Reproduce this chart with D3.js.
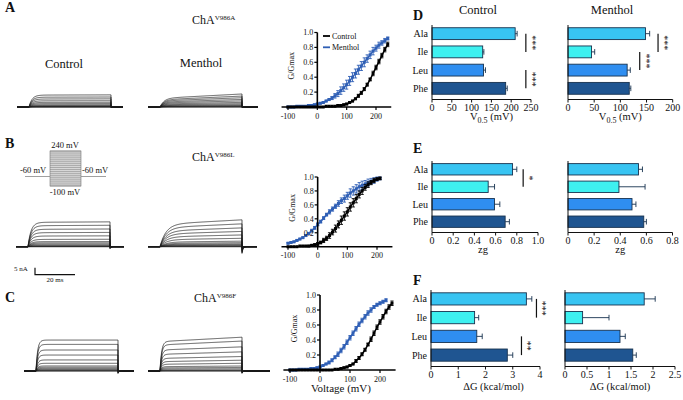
<!DOCTYPE html>
<html><head><meta charset="utf-8">
<script src="https://cdn.jsdelivr.net/npm/d3@7"></script>
<style>body{margin:0;background:#fff}svg{display:block}text{font-family:"Liberation Serif","Times New Roman",serif;fill:#111}</style>
</head><body>
<script>
// ---------------- DATA ----------------
const residues = ["Ala","Ile","Leu","Phe"];
const barColors = ["#38c4f2","#3ef0f0","#2f8ef0","#1f5591"];

const v05Control = [210,128,130,186];
const v05ControlErr = [5,3,5,4];
const v05Menthol = [148,45,113,117];
const v05MentholErr = [8,6,6,3];
const zgControl = [0.76,0.53,0.59,0.69];
const zgControlErr = [0.04,0.06,0.05,0.04];
const zgMenthol = [0.54,0.39,0.49,0.58];
const zgMentholErr = [0.03,0.20,0.03,0.02];
const dGControl = [3.5,1.6,1.68,2.8];
const dGControlErr = [0.2,0.15,0.2,0.2];
const dGMenthol = [1.8,0.4,1.25,1.54];
const dGMentholErr = [0.25,0.6,0.12,0.08];

const v05ControlTicks = [0,50,100,150,200,250];
const v05MentholTicks = [0,50,100,150,200];
const zgControlTicks = [0,0.2,0.4,0.6,0.8,1.0];
const zgMentholTicks = [0,0.2,0.4,0.6,0.8];
const dGControlTicks = [0,1,2,3,4];
const dGMentholTicks = [0,0.5,1,1.5,2,2.5];

const sigV05Control = [{from:"Ala",to:"Ile",label:"***"},{from:"Leu",to:"Phe",label:"***"}];
const sigV05Menthol = [{from:"Ala",to:"Ile",label:"***"},{from:"Ile",to:"Leu",label:"***"}];
const sigZgControl = [{from:"Ala",to:"Ile",label:"*"}];
const sigDGControl = [{from:"Ala",to:"Ile",label:"***"},{from:"Leu",to:"Phe",label:"**"}];

// G/Gmax - voltage data
const voltsA = [-100,-90,-80,-70,-60,-50,-40,-30,-20,-10,0,10,20,30,40,50,60,70,80,90,100,110,120,130,140,150,160,170,180,190,200,210,220,230,240];
const gA_control = [0,0,0,0,0,0,0,0,0,0,0,0,0,0.01,0.01,0.01,0.01,0.02,0.02,0.03,0.04,0.06,0.08,0.11,0.15,0.19,0.24,0.30,0.37,0.45,0.53,0.61,0.69,0.77,0.84];
const gA_controlErr = [0,0,0,0,0,0,0,0,0,0,0,0,0,0,0,0,0,0.01,0.01,0.01,0.01,0.01,0.01,0.01,0.02,0.02,0.02,0.02,0.02,0.03,0.03,0.03,0.03,0.03,0.03];
const gA_menthol = [0,0,0,0.01,0.01,0.01,0.01,0.02,0.02,0.03,0.04,0.05,0.06,0.08,0.10,0.12,0.15,0.18,0.22,0.26,0.30,0.35,0.40,0.45,0.50,0.55,0.60,0.65,0.70,0.75,0.79,0.83,0.86,0.89,0.92];
const gA_mentholErr = [0.01,0.01,0.01,0.01,0.01,0.01,0.01,0.01,0.01,0.01,0.01,0.01,0.01,0.01,0.01,0.02,0.03,0.04,0.05,0.05,0.06,0.06,0.06,0.06,0.06,0.06,0.06,0.05,0.05,0.05,0.04,0.04,0.03,0.03,0.02];

const voltsB = [-100,-90,-80,-70,-60,-50,-40,-30,-20,-10,0,10,20,30,40,50,60,70,80,90,100,110,120,130,140,150,160,170,180,190,200,210];
const gB_control = [0,0,0,0,0.01,0.01,0.01,0.01,0.02,0.03,0.04,0.06,0.09,0.12,0.16,0.21,0.26,0.32,0.38,0.44,0.50,0.57,0.63,0.69,0.75,0.80,0.85,0.89,0.92,0.95,0.97,0.98];
const gB_controlErr = [0,0,0,0,0,0,0,0.01,0.01,0.01,0.02,0.02,0.03,0.03,0.04,0.04,0.05,0.05,0.06,0.06,0.06,0.06,0.06,0.06,0.05,0.05,0.04,0.04,0.03,0.03,0.02,0.02];
const gB_menthol = [0.05,0.06,0.07,0.09,0.11,0.13,0.16,0.19,0.23,0.27,0.32,0.36,0.41,0.46,0.50,0.54,0.58,0.62,0.66,0.69,0.73,0.77,0.80,0.83,0.86,0.88,0.90,0.92,0.94,0.95,0.97,0.98];
const gB_mentholErr = [0.01,0.01,0.01,0.01,0.01,0.01,0.01,0.01,0.02,0.02,0.02,0.02,0.02,0.02,0.03,0.03,0.03,0.04,0.04,0.05,0.05,0.06,0.06,0.06,0.06,0.06,0.05,0.05,0.04,0.04,0.03,0.02];

const voltsC = [-100,-90,-80,-70,-60,-50,-40,-30,-20,-10,0,10,20,30,40,50,60,70,80,90,100,110,120,130,140,150,160,170,180,190,200,210,220,230,240];
const gC_control = [0,0,0,0,0,0,0,0,0,0,0,0,0,0,0,0.01,0.01,0.02,0.03,0.04,0.06,0.08,0.12,0.16,0.21,0.27,0.34,0.41,0.49,0.57,0.64,0.71,0.78,0.84,0.89];
const gC_controlErr = [0,0,0,0,0,0,0,0,0,0,0,0,0,0,0,0,0,0.01,0.01,0.01,0.01,0.01,0.02,0.02,0.02,0.02,0.02,0.03,0.03,0.03,0.03,0.03,0.03,0.03,0.03];
const voltsCm = [-100,-90,-80,-70,-60,-50,-40,-30,-20,-10,0,10,20,30,40,50,60,70,80,90,100,110,120,130,140,150,160,170,180,190,200,210,220];
const gC_menthol = [0,0,0,0.01,0.01,0.01,0.01,0.02,0.02,0.03,0.04,0.06,0.08,0.10,0.13,0.17,0.21,0.26,0.31,0.37,0.43,0.49,0.55,0.61,0.66,0.71,0.76,0.80,0.84,0.87,0.89,0.91,0.93];
const gC_mentholErr = [0.01,0.01,0.01,0.01,0.01,0.01,0.01,0.01,0.01,0.01,0.01,0.01,0.01,0.02,0.02,0.02,0.03,0.03,0.03,0.03,0.03,0.03,0.03,0.03,0.03,0.03,0.03,0.03,0.02,0.02,0.02,0.02,0.02];
const gvTicksX = [-100,0,100,200];
const gvTicksY = [0.2,0.4,0.6,0.8,1.0];

// current trace steady-state amplitudes (nA)
const ampA_control = [0.1,0.3,0.6,1.0,1.6,2.4,3.3,4.4,5.7,7.0,8.5];
const ampA_menthol = [0.2,0.4,0.7,1.1,1.6,2.2,2.9,3.6,4.4,5.2,6.2];
const ampB_control = [0.3,0.7,1.2,1.9,2.7,3.6,5.2,7.6,10.0,12.4,15.0,17.4];
const ampB_menthol = [0.4,0.8,1.2,1.7,2.4,3.3,5.0,7.0,9.1,11.2,13.6,16.0];
const ampC_control = [0.3,0.7,1.2,1.9,2.7,3.6,5.5,7.9,11.4,15.0,19.0,22.1];
const ampC_menthol = [0.3,0.7,1.4,2.2,3.1,4.8,6.7,9.0,11.9,15.0,18.6,21.0];

// ---------------- DRAWING ----------------
const svg = d3.select("body").append("svg").attr("width",683).attr("height",400);

function txt(x,y,s,opt={}){
  const t = svg.append("text").attr("x",x).attr("y",y).text(s)
    .attr("font-size",opt.size||10).attr("text-anchor",opt.anchor||"start");
  if(opt.bold) t.attr("font-weight","bold");
  return t;
}

// panel letters
[["A",5,12],["B",5,148],["C",5,302],["D",413,20],["E",413,153],["F",413,285]].forEach(d=>txt(d[1],d[2],d[0],{size:14,bold:true}));

function chaLabel(x,y,sup){
  const t = txt(x,y,"ChA",{size:12});
  t.append("tspan").attr("font-size",7).attr("dy",-4.5).text(sup);
}
chaLabel(192,24,"V986A");
chaLabel(192,161,"V986L");
chaLabel(194,302,"V986F");

txt(64,68,"Control",{size:12.5,anchor:"middle"});
txt(201,67,"Menthol",{size:12.5,anchor:"middle"});

// ---- current traces ----
const tStepOn = 6, tStepOff = 47;
function drawTraces(ox, oy, tEnd, amps, tau, slope, tailFrac){
  const tx = d3.scaleLinear().domain([0,1]).range([ox, ox+2]);
  const iy = d3.scaleLinear().domain([0,1]).range([oy, oy-1.4]);
  const line = d3.line().x(d=>tx(d[0])).y(d=>iy(d[1]));
  const g = svg.append("g");
  amps.forEach(a=>{
    const pts = [[0,0],[tStepOn,0]];
    for(let t=tStepOn; t<=tStepOff+1e-6; t+=0.25){
      const dt = t - tStepOn;
      pts.push([t, a*(1-Math.exp(-dt/tau))*(1+slope*dt/(tStepOff-tStepOn))]);
    }
    pts.push([tStepOff, -tailFrac*a]);
    for(let t=tStepOff; t<=tEnd; t+=0.25) pts.push([t, -tailFrac*a*Math.exp(-(t-tStepOff)/0.5)]);
    pts.push([tEnd,0]);
    g.append("path").attr("d",line(pts)).attr("fill","none").attr("stroke","#1a1a1a").attr("stroke-width",0.7);
  });
  g.append("path").attr("d",line([[0,0],[tEnd,0]])).attr("stroke","#1a1a1a").attr("stroke-width",1);
}
drawTraces(17,107,53,ampA_control,1.5,0.02,0.05);
drawTraces(148,107,55,ampA_menthol,2,0.5,0.05);
drawTraces(16,246.7,54,ampB_control,1.5,0.02,0.08);
drawTraces(148,246.7,54.5,ampB_menthol,3,0.2,0.3);
drawTraces(24,371,55,ampC_control,0.8,0.0,0.08);
drawTraces(148,371,61,ampC_menthol,0.8,0.15,0.08);

// scale bar
svg.append("path").attr("d","M35,267.7V274.7H75").attr("fill","none").attr("stroke","#111").attr("stroke-width",1.2);
txt(14,271,"5 nA",{size:7});
txt(55,282,"20 ms",{size:7,anchor:"middle"});

// voltage protocol inset
(function(){
  const g = svg.append("g");
  g.append("rect").attr("x",50).attr("y",151).attr("width",31).attr("height",35).attr("fill","#d8d8d8");
  const levels = [240,220,200,180,160,140,120,100,80,60,40,20,0,-20,-40,-60,-80,-100];
  const py = d3.scaleLinear().domain([-100,240]).range([186,151]);
  levels.forEach(l=>g.append("line").attr("x1",50).attr("x2",81).attr("y1",py(l)).attr("y2",py(l)).attr("stroke","#8a8a8a").attr("stroke-width",0.6));
  g.append("rect").attr("x",50).attr("y",151).attr("width",31).attr("height",35).attr("fill","none").attr("stroke","#777").attr("stroke-width",0.6);
  g.append("line").attr("x1",25).attr("x2",50).attr("y1",176.5).attr("y2",176.5).attr("stroke","#888").attr("stroke-width",0.8);
  g.append("line").attr("x1",81).attr("x2",106).attr("y1",176.5).attr("y2",176.5).attr("stroke","#888").attr("stroke-width",0.8);
  txt(65,148,"240 mV",{size:8.5,anchor:"middle"});
  txt(20,173,"-60 mV",{size:8.5});
  txt(82,173,"-60 mV",{size:8.5});
  txt(65,195,"-100 mV",{size:8.5,anchor:"middle"});
})();

// ---- G/V plots ----
function gvPanel(c){
  const x = d3.scaleLinear().domain([-100,200]).range([c.xa,c.xb]);
  const y = d3.scaleLinear().domain([0,1]).range([c.y0,c.y1]);
  const g = svg.append("g");
  c.series.forEach(s=>{
    const pts = s.v.map((v,i)=>({v, g:s.g[i], e:s.e[i]}));
    g.append("path").datum(pts)
      .attr("d",d3.line().x(d=>x(d.v)).y(d=>y(d.g)).curve(d3.curveMonotoneX))
      .attr("fill","none").attr("stroke",s.color).attr("stroke-width",1.5);
    g.selectAll(null).data(pts.filter(d=>d.e>0)).join("path")
      .attr("d",d=>`M${x(d.v)},${y(d.g-d.e)}V${y(d.g+d.e)}M${x(d.v)-1.6},${y(d.g+d.e)}h3.2M${x(d.v)-1.6},${y(d.g-d.e)}h3.2`)
      .attr("stroke",s.color).attr("stroke-width",0.9).attr("fill","none");
    g.selectAll(null).data(pts).join("rect")
      .attr("x",d=>x(d.v)-1.5).attr("y",d=>y(d.g)-1.5).attr("width",3).attr("height",3).attr("fill",s.color);
  });
  const xl = g.append("g");
  xl.append("line").attr("x1",x(-122)).attr("x2",x(252)).attr("y1",c.y0).attr("y2",c.y0).attr("stroke","#000").attr("stroke-width",1.6);
  gvTicksX.forEach(t=>{
    xl.append("line").attr("x1",x(t)).attr("x2",x(t)).attr("y1",c.y0).attr("y2",c.y0+3).attr("stroke","#000").attr("stroke-width",1.2);
    xl.append("text").attr("x",x(t)).attr("y",c.y0+11.5).attr("text-anchor","middle").attr("font-size",8).text(t);
  });
  const yl = g.append("g");
  yl.append("line").attr("x1",x(0)).attr("x2",x(0)).attr("y1",c.y0).attr("y2",y(1)).attr("stroke","#000").attr("stroke-width",1.6);
  gvTicksY.forEach(t=>{
    yl.append("line").attr("x1",x(0)-3).attr("x2",x(0)).attr("y1",y(t)).attr("y2",y(t)).attr("stroke","#000").attr("stroke-width",1.2);
    yl.append("text").attr("x",x(0)-4).attr("y",y(t)+2.8).attr("text-anchor","end").attr("font-size",8).text(d3.format(".1f")(t));
  });
  g.append("text").attr("transform",`translate(${x(0)-23},${(c.y0+y(1))/2-4}) rotate(-90)`)
    .attr("text-anchor","middle").attr("font-size",8).text("G/Gmax");
  if(c.legend){
    c.series.slice().reverse().forEach((s,i)=>{
      const ly = y(1)+3.5+i*11.3;
      g.append("line").attr("x1",323).attr("x2",330).attr("y1",ly).attr("y2",ly).attr("stroke",s.color).attr("stroke-width",1.8);
      g.append("text").attr("x",332).attr("y",ly+3).attr("font-size",8).text(s.name);
    });
  }
  if(c.xlabel){
    g.append("text").attr("x",x(70)).attr("y",c.y0+22).attr("text-anchor","middle").attr("font-size",11).text("Voltage (mV)");
  }
}
const blue = "#2f5fb5";
gvPanel({xa:288,xb:376,y0:107,y1:32.5,legend:true,series:[
  {name:"Menthol",v:voltsA,g:gA_menthol,e:gA_mentholErr,color:blue},
  {name:"Control",v:voltsA,g:gA_control,e:gA_controlErr,color:"#000"}]});
gvPanel({xa:288,xb:377,y0:246.7,y1:177,series:[
  {name:"Menthol",v:voltsB,g:gB_menthol,e:gB_mentholErr,color:blue},
  {name:"Control",v:voltsB,g:gB_control,e:gB_controlErr,color:"#000"}]});
gvPanel({xa:290,xb:380,y0:370,y1:295,xlabel:true,series:[
  {name:"Menthol",v:voltsCm,g:gC_menthol,e:gC_mentholErr,color:blue},
  {name:"Control",v:voltsC,g:gC_control,e:gC_controlErr,color:"#000"}]});

// ---- bar plots ----
function barPanel(c){
  const x = d3.scaleLinear().domain([0,c.max]).range([c.left,c.right]);
  const y = d3.scaleBand().domain(residues).range([c.top,c.bottom]).paddingInner(0.35).paddingOuter(0.15);
  const g = svg.append("g");
  const axisY = c.bottom+2.5;
  g.selectAll(null).data(residues).join("rect")
    .attr("x",x(0)).attr("y",r=>y(r)).attr("width",(r,i)=>x(c.vals[i])-x(0)).attr("height",y.bandwidth())
    .attr("fill",(r,i)=>barColors[i]).attr("stroke","#17324f").attr("stroke-width",0.9);
  g.selectAll(null).data(residues).join("path")
    .attr("d",(r,i)=>{const cy=y(r)+y.bandwidth()/2, x1=x(c.vals[i]), x2=x(c.vals[i]+c.errs[i]);
      return `M${x1},${cy}H${x2}M${x2},${cy-2.8}V${cy+2.8}`;})
    .attr("stroke","#17324f").attr("stroke-width",0.9).attr("fill","none");
  g.append("line").attr("x1",x(0)).attr("x2",x(0)).attr("y1",c.top).attr("y2",axisY).attr("stroke","#111").attr("stroke-width",1);
  g.append("line").attr("x1",x(0)).attr("x2",x(c.max)).attr("y1",axisY).attr("y2",axisY).attr("stroke","#111").attr("stroke-width",1);
  c.ticks.forEach(t=>{
    g.append("line").attr("x1",x(t)).attr("x2",x(t)).attr("y1",axisY).attr("y2",axisY+3).attr("stroke","#111").attr("stroke-width",1);
    g.append("text").attr("x",x(t)).attr("y",axisY+11).attr("text-anchor","middle").attr("font-size",10).text(c.fmt(t));
  });
  if(c.cats){
    residues.forEach(r=>g.append("text").attr("x",x(0)-4).attr("y",y(r)+y.bandwidth()/2+3.5).attr("text-anchor","end").attr("font-size",10).text(r));
  }
  (c.sig||[]).forEach((s,i)=>{
    const sx = x(c.sigX[i]);
    const ya = y(s.from)+y.bandwidth()/2, yb = y(s.to)+y.bandwidth()/2;
    g.append("line").attr("x1",sx).attr("x2",sx).attr("y1",ya).attr("y2",yb).attr("stroke","#111").attr("stroke-width",1.2);
    g.append("text").attr("transform",`translate(${sx+3},${(ya+yb)/2}) rotate(90)`).attr("text-anchor","middle").attr("font-size",10).text(s.label);
  });
  const tt = g.append("text").attr("x",(x(0)+x(c.max))/2+c.titleDx).attr("y",c.titleY).attr("text-anchor","middle").attr("font-size",10.5);
  c.title(tt);
  if(c.head) g.append("text").attr("x",c.head[1]).attr("y",14).attr("text-anchor","middle").attr("font-size",12.5).text(c.head[0]);
}
const v05Title = t=>{t.text("V"); t.append("tspan").attr("font-size",8).attr("dy",3).text("0.5"); t.append("tspan").attr("dy",-3).text(" (mV)");};
const zgTitle = t=>t.text("zg");
const dGTitle = t=>t.text("\u0394G (kcal/mol)");
const fmtPlain = d3.format("");
const fmtZg = t=> t===0 ? "0" : d3.format(".1f")(t);

barPanel({vals:v05Control,errs:v05ControlErr,max:250,left:432,right:531,top:25,bottom:97,ticks:v05ControlTicks,fmt:fmtPlain,cats:true,
  sig:sigV05Control,sigX:[237,237],title:v05Title,titleY:120,titleDx:10,head:["Control",478]});
barPanel({vals:v05Menthol,errs:v05MentholErr,max:200,left:568,right:672.7,top:25,bottom:97,ticks:v05MentholTicks,fmt:fmtPlain,
  sig:sigV05Menthol,sigX:[172,137],title:v05Title,titleY:120,titleDx:0,head:["Menthol",612]});
barPanel({vals:zgControl,errs:zgControlErr,max:1,left:432,right:538,top:161,bottom:230,ticks:zgControlTicks,fmt:fmtZg,cats:true,
  sig:sigZgControl,sigX:[0.86],title:zgTitle,titleY:253,titleDx:-2});
barPanel({vals:zgMenthol,errs:zgMentholErr,max:0.8,left:568,right:672.5,top:161,bottom:230,ticks:zgMentholTicks,fmt:fmtZg,
  title:zgTitle,titleY:253,titleDx:0});
barPanel({vals:dGControl,errs:dGControlErr,max:4,left:431,right:540,top:290,bottom:364,ticks:dGControlTicks,fmt:fmtPlain,cats:true,
  sig:sigDGControl,sigX:[3.87,3.32],title:dGTitle,titleY:390,titleDx:8});
barPanel({vals:dGMenthol,errs:dGMentholErr,max:2.5,left:565,right:675,top:290,bottom:364,ticks:dGMentholTicks,fmt:fmtPlain,
  title:dGTitle,titleY:390,titleDx:0});
</script>
</body></html>
